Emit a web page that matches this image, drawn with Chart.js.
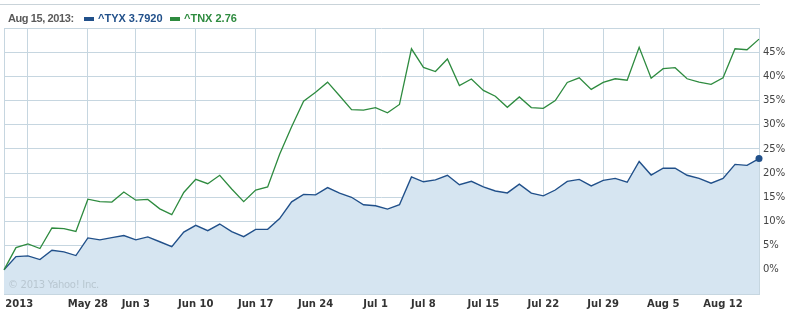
<!DOCTYPE html>
<html>
<head>
<meta charset="utf-8">
<script src="https://cdn.jsdelivr.net/npm/chart.js@4/dist/chart.umd.min.js"></script>
<style>
    html, body { margin: 0; padding: 0; background: #fff; }
    #wrap { position: relative; width: 791px; height: 312px; overflow: hidden; }
    #chart { position: absolute; left: 0; top: 0; }
    .topline { position: absolute; left: 0; top: 4px; width: 760px; height: 1px; background: #c9d3d9; }
    .hdr { position: absolute; top: 12px; font: bold 11px "Liberation Sans", Arial, sans-serif; white-space: nowrap; }
    .sw { position: absolute; top: 17px; width: 10px; height: 4px; }
    .copy { position: absolute; left: 8px; top: 279px; font: 10px "DejaVu Sans", sans-serif; letter-spacing: -0.3px; color: #b9c7d1; }
</style>
</head>
<body>
<div id="wrap">
    <canvas id="chart" width="791" height="312"></canvas>
    <div class="topline"></div>
    <div class="hdr" style="left:8px;color:#5a5a5a;letter-spacing:-0.4px;">Aug 15, 2013:</div>
    <div class="sw" style="left:84px;background:#21508a;"></div>
    <div class="hdr" style="left:98px;color:#21508a;">^TYX 3.7920</div>
    <div class="sw" style="left:170px;background:#2e8b3f;"></div>
    <div class="hdr" style="left:184px;color:#2e8b3f;">^TNX 2.76</div>
    <div class="copy">© 2013 Yahoo! Inc.</div>
</div>
<script>
(function () {
    'use strict';

    // trading days, May 16 – Aug 15, 2013
    const days = [
        'May 16', 'May 17',
        'May 20', 'May 21', 'May 22', 'May 23', 'May 24',
        'May 28', 'May 29', 'May 30', 'May 31',
        'Jun 3', 'Jun 4', 'Jun 5', 'Jun 6', 'Jun 7',
        'Jun 10', 'Jun 11', 'Jun 12', 'Jun 13', 'Jun 14',
        'Jun 17', 'Jun 18', 'Jun 19', 'Jun 20', 'Jun 21',
        'Jun 24', 'Jun 25', 'Jun 26', 'Jun 27', 'Jun 28',
        'Jul 1', 'Jul 2', 'Jul 3', 'Jul 5',
        'Jul 8', 'Jul 9', 'Jul 10', 'Jul 11', 'Jul 12',
        'Jul 15', 'Jul 16', 'Jul 17', 'Jul 18', 'Jul 19',
        'Jul 22', 'Jul 23', 'Jul 24', 'Jul 25', 'Jul 26',
        'Jul 29', 'Jul 30', 'Jul 31', 'Aug 1', 'Aug 2',
        'Aug 5', 'Aug 6', 'Aug 7', 'Aug 8', 'Aug 9',
        'Aug 12', 'Aug 13', 'Aug 14', 'Aug 15'
    ];

    // % change since first day
    const tyx = [
        0, 2.74, 2.88, 2.12, 4.05, 3.7, 2.95, 6.6, 6.2, 6.65, 7.1, 6.2, 6.8, 5.8, 4.8, 7.8,
        9.2, 8.1, 9.47, 7.9, 6.86, 8.37, 8.37, 10.6, 14.06, 15.6, 15.5, 17.0, 15.85, 15.0, 13.45, 13.25,
        12.55, 13.45, 19.2, 18.2, 18.6, 19.55, 17.6, 18.3, 17.15, 16.3, 15.9, 17.7, 15.85, 15.3, 16.5, 18.3,
        18.7, 17.35, 18.5, 18.9, 18.1, 22.4, 19.6, 21.0, 21.0, 19.55, 18.9, 17.9, 18.9, 21.8, 21.6, 23.0
    ];
    const tnx = [
        0, 4.6, 5.35, 4.4, 8.65, 8.5, 7.95, 14.6, 14.1, 14.0, 16.1, 14.4, 14.55, 12.6, 11.4, 16.0,
        18.7, 17.8, 19.55, 16.7, 14.1, 16.5, 17.15, 23.9, 29.6, 34.85, 36.7, 38.8, 36.0, 33.1, 33.0, 33.55,
        32.45, 34.2, 45.7, 41.85, 41.0, 43.6, 38.1, 39.45, 37.1, 35.9, 33.6, 35.75, 33.55, 33.4, 35.0, 38.75,
        39.7, 37.3, 38.75, 39.5, 39.2, 46.0, 39.6, 41.6, 41.8, 39.5, 38.8, 38.35, 39.7, 45.7, 45.5, 47.7
    ];

    // week gridlines and their labels
    const weekDays = ['May 20', 'May 28', 'Jun 3', 'Jun 10', 'Jun 17', 'Jun 24', 'Jul 1',
        'Jul 8', 'Jul 15', 'Jul 22', 'Jul 29', 'Aug 5', 'Aug 12'];
    const weekLabels = ['2013     ', 'May 28', 'Jun 3', 'Jun 10', 'Jun 17', 'Jun 24', 'Jul 1',
        'Jul 8', 'Jul 15', 'Jul 22', 'Jul 29', 'Aug 5', 'Aug 12'];

    const gridColor = '#c6d6e0';
    const last = days.length - 1;

    new Chart(document.getElementById('chart'), {
        type: 'line',
        data: {
            labels: days,
            datasets: [{
                label: '^TNX',
                data: tnx,
                borderColor: '#2e8b3f',
                borderWidth: 1.3,
                pointRadius: 0,
                fill: false,
                tension: 0
            }, {
                label: '^TYX',
                data: tyx,
                borderColor: '#21508a',
                backgroundColor: '#d6e5f1',
                borderWidth: 1.4,
                pointRadius: function (c) { return c.dataIndex === last ? 3.5 : 0; },
                pointBackgroundColor: '#21508a',
                pointBorderWidth: 0,
                fill: 'start',
                tension: 0
            }]
        },
        options: {
            responsive: false,
            animation: false,
            devicePixelRatio: 1,
            layout: { padding: { left: 4, top: 28, right: 0, bottom: 0 } },
            plugins: { legend: { display: false }, tooltip: { enabled: false } },
            scales: {
                x: {
                    offset: false,
                    grid: { color: gridColor, drawTicks: false },
                    border: { color: gridColor },
                    afterFit: function (s) { s.height = 18; },
                    ticks: {
                        autoSkip: false,
                        maxRotation: 0,
                        padding: 4,
                        color: '#333',
                        font: { family: '"DejaVu Sans", sans-serif', size: 10, weight: 'bold' },
                        callback: function (v, i) {
                            if (i === 0) return '';
                            const k = weekDays.indexOf(days[i]);
                            return k >= 0 ? weekLabels[k] : null;
                        }
                    }
                },
                y: {
                    position: 'right',
                    min: -5,
                    max: 50,
                    grid: { color: gridColor, drawTicks: false },
                    border: { color: gridColor },
                    afterFit: function (s) { s.width = 32; },
                    ticks: {
                        stepSize: 5,
                        padding: 4,
                        color: '#444',
                        font: { family: '"DejaVu Sans", sans-serif', size: 10 },
                        callback: function (v) {
                            return (v < 0 || v >= 50) ? '' : v + '%';
                        }
                    }
                }
            }
        }
    });
})();
</script>
</body>
</html>
